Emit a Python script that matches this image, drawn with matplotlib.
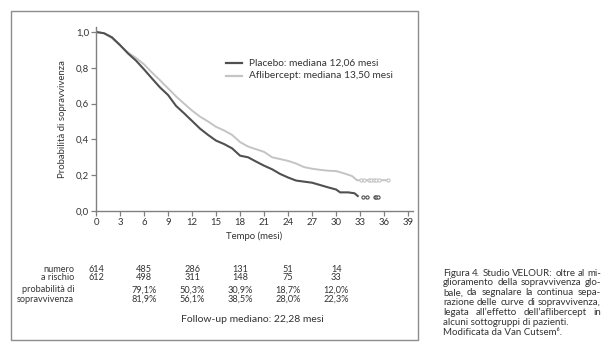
import matplotlib
matplotlib.use("Agg")
import matplotlib.pyplot as plt
from matplotlib.patches import Rectangle
from matplotlib.transforms import blended_transform_factory

plt.rcParams['font.family'] = ['Lato', 'DejaVu Sans']

# ---------------- data ----------------
t_placebo = [0, 1, 2, 3, 4, 5, 6, 7, 8, 9, 10, 11, 12, 13, 14, 15, 16, 17, 18,
             19, 20, 21, 22, 23, 24, 25, 26, 27, 28, 29, 30, 30.5, 31.5, 32.3, 32.8]
s_placebo = [1.0, 0.993, 0.97, 0.927, 0.88, 0.84, 0.791, 0.74, 0.69, 0.648, 0.587,
             0.546, 0.503, 0.46, 0.425, 0.393, 0.374, 0.35, 0.309, 0.30, 0.276,
             0.253, 0.233, 0.207, 0.187, 0.17, 0.164, 0.158, 0.145, 0.132, 0.12,
             0.104, 0.104, 0.099, 0.08]
cens_placebo_t = [33.4, 33.8, 34.8, 35.0, 35.2]
cens_placebo_s = [0.08, 0.08, 0.08, 0.08, 0.08]

t_aflib = [0, 1, 2, 3, 4, 5, 6, 7, 8, 9, 10, 11, 12, 13, 14, 15, 16, 17, 18,
           19, 20, 21, 22, 23, 24, 25, 26, 27, 28, 29, 30, 31, 32, 32.6, 36.5]
s_aflib = [1.0, 0.993, 0.965, 0.925, 0.885, 0.855, 0.819, 0.773, 0.73, 0.685,
           0.64, 0.60, 0.561, 0.527, 0.50, 0.47, 0.45, 0.425, 0.385, 0.36, 0.345,
           0.33, 0.30, 0.29, 0.28, 0.265, 0.245, 0.236, 0.23, 0.225, 0.223, 0.21,
           0.195, 0.172, 0.172]
cens_aflib_t = [33.1, 33.5, 34.1, 34.4, 34.7, 35.0, 35.3, 36.5]
cens_aflib_s = [0.172] * 8

legend_labels = ["Placebo: mediana 12,06 mesi", "Aflibercept: mediana 13,50 mesi"]

x_ticks = [0, 3, 6, 9, 12, 15, 18, 21, 24, 27, 30, 33, 36, 39]
y_ticks = [0.0, 0.2, 0.4, 0.6, 0.8, 1.0]
y_ticklabels = ["0,0", "0,2", "0,4", "0,6", "0,8", "1,0"]

table_times = [0, 6, 12, 18, 24, 30]
risk_placebo = ["614", "485", "286", "131", "51", "14"]
risk_aflib = ["612", "498", "311", "148", "75", "33"]
prob_times = [6, 12, 18, 24, 30]
prob_placebo = ["79,1%", "50,3%", "30,9%", "18,7%", "12,0%"]
prob_aflib = ["81,9%", "56,1%", "38,5%", "28,0%", "22,3%"]

caption_lines = [
    ("Figura 4. Studio VELOUR: oltre al mi-", True),
    ("glioramento della sopravvivenza glo-", True),
    ("bale, da segnalare la continua sepa-", True),
    ("razione delle curve di sopravvivenza,", True),
    ("legata all\u2019effetto dell\u2019aflibercept in", True),
    ("alcuni sottogruppi di pazienti.", False),
    ("Modificata da Van Cutsem\u2076.", False),
]

# ---------------- figure ----------------
W, H = 608, 352
fig = plt.figure(figsize=(W / 100, H / 100), dpi=100)
fig.patch.set_facecolor("white")

def fx(px):
    return px / W

def fy(py):
    return 1 - py / H

# outer frame
fig.patches.append(Rectangle((fx(11), fy(340)), fx(418) - fx(11), fy(11) - fy(340),
                             transform=fig.transFigure, fill=False,
                             edgecolor="#8c8c8c", linewidth=1.0))

ax_left, ax_right, ax_bottom, ax_top = 96, 413, 211, 26.6
ax = fig.add_axes([fx(ax_left), fy(ax_bottom), fx(ax_right) - fx(ax_left),
                   fy(ax_top) - fy(ax_bottom)])
ax.set_xlim(0, 39.6)
ax.set_ylim(0, 1.03)

dark = "#505050"
light = "#c4c4c4"
txt = "#333333"

ax.plot(t_aflib, s_aflib, color=light, lw=1.4, solid_capstyle="butt")
ax.plot(t_placebo, s_placebo, color=dark, lw=1.5, solid_capstyle="butt")
ax.plot(cens_aflib_t, cens_aflib_s, linestyle="none", marker="o", ms=2.3,
        mfc="white", mec=light, mew=0.8)
ax.plot(cens_placebo_t, cens_placebo_s, linestyle="none", marker="o", ms=2.3,
        mfc="white", mec=dark, mew=0.8)

for s in ["top", "right"]:
    ax.spines[s].set_visible(False)
for s in ["left", "bottom"]:
    ax.spines[s].set_color("#808080")
    ax.spines[s].set_linewidth(1.0)

ax.set_xticks(x_ticks)
ax.set_xticklabels([str(v) for v in x_ticks])
ax.set_yticks(y_ticks)
ax.set_yticklabels(y_ticklabels)
ax.tick_params(direction="out", length=3.5, width=0.9, color="#808080",
               labelsize=6.9, labelcolor=txt, pad=1.5)
ax.set_xlabel("Tempo (mesi)", fontsize=6.9, color=txt, labelpad=3)
ax.set_ylabel("Probabilità di sopravvivenza", fontsize=6.9, color=txt, labelpad=6)

# legend drawn manually
lx0, lx1, ltext = 226, 242, 249
for i, (lab, col) in enumerate(zip(legend_labels, [dark, light])):
    yy = 63 + 12.5 * i
    fig.add_artist(plt.Line2D([fx(lx0), fx(lx1)], [fy(yy), fy(yy)],
                              transform=fig.transFigure, color=col, lw=1.6))
    fig.text(fx(ltext), fy(yy), lab, fontsize=7.3, color=txt,
             ha="left", va="center")

# table below
tr = blended_transform_factory(ax.transData, fig.transFigure)
row_y = [269, 278, 290, 299]
fs_tab = 6.6
fig.text(fx(74), fy(row_y[0]), "numero", fontsize=fs_tab, color=txt, ha="right", va="center")
fig.text(fx(74), fy(row_y[1]), "a rischio", fontsize=fs_tab, color=txt, ha="right", va="center")
fig.text(fx(74), fy(row_y[2]), "probabilità di", fontsize=fs_tab, color=txt, ha="right", va="center")
fig.text(fx(74), fy(row_y[3]), "sopravvivenza", fontsize=fs_tab, color=txt, ha="right", va="center")
for tt, a, b in zip(table_times, risk_placebo, risk_aflib):
    fig.text(tt, fy(row_y[0]), a, transform=tr, fontsize=fs_tab, color=txt, ha="center", va="center")
    fig.text(tt, fy(row_y[1]), b, transform=tr, fontsize=fs_tab, color=txt, ha="center", va="center")
for tt, a, b in zip(prob_times, prob_placebo, prob_aflib):
    fig.text(tt, fy(row_y[2]), a, transform=tr, fontsize=fs_tab, color=txt, ha="center", va="center")
    fig.text(tt, fy(row_y[3]), b, transform=tr, fontsize=fs_tab, color=txt, ha="center", va="center")
fig.text(fx(252), fy(320), "Follow-up mediano: 22,28 mesi", fontsize=7.5, color=txt,
         ha="center", va="center")

# caption with justification
renderer = fig.canvas.get_renderer()
cap_x0, cap_x1 = 443, 601
fs_cap = 7.0
for i, (line, justify) in enumerate(caption_lines):
    yy = fy(273 + 9.9 * i)
    if not justify:
        fig.text(fx(cap_x0), yy, line, fontsize=fs_cap, color=txt, ha="left", va="center")
        continue
    words = line.split(" ")
    objs = [fig.text(0, yy, w, fontsize=fs_cap, color=txt, ha="left", va="center")
            for w in words]
    widths = [o.get_window_extent(renderer).width for o in objs]
    gap = (cap_x1 - cap_x0 - sum(widths)) / (len(words) - 1)
    x = cap_x0
    for o, w in zip(objs, widths):
        o.set_x(fx(x))
        x += w + gap

fig.savefig("out.png", dpi=100, facecolor="white")
